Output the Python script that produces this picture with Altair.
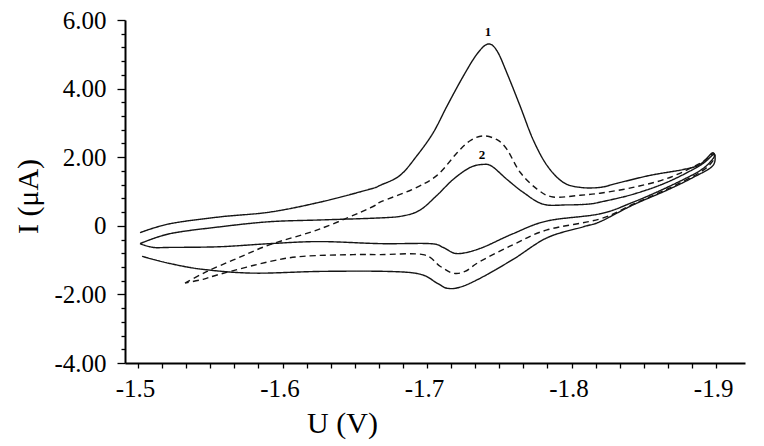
import altair as alt
import pandas as pd

# Curve 1 (solid, large peak) : forward scan then return scan
c1_u = [-1.5014, -1.5221, -1.5567, -1.5913, -1.6260, -1.6606, -1.6675, -1.6813, -1.6931, -1.7042,
        -1.7138, -1.7249, -1.7346, -1.7422, -1.7484, -1.7554, -1.7644, -1.7734, -1.7830, -1.7941,
        -1.8059, -1.8197, -1.8315, -1.8543, -1.8772, -1.8889, -1.8979,
        -1.8979, -1.8841, -1.8661, -1.8426, -1.8197, -1.8080, -1.7830, -1.7595, -1.7367, -1.7228,
        -1.7138, -1.7069, -1.6952, -1.6723, -1.6260, -1.5796, -1.5450, -1.5221, -1.5028]
c1_i = [-0.20, 0.06, 0.26, 0.40, 0.69, 1.07, 1.18, 1.47, 2.05, 2.71,
        3.49, 4.35, 5.01, 5.30, 5.10, 4.44, 3.49, 2.51, 1.76, 1.27,
        1.12, 1.12, 1.24, 1.47, 1.64, 1.79, 2.13,
        1.76, 1.41, 1.04, 0.61, 0.12, -0.03, -0.35, -0.98, -1.53, -1.79,
        -1.82, -1.67, -1.41, -1.33, -1.33, -1.38, -1.27, -1.10, -0.89]

# Curve 2 (solid, small peak)
c2_u = [-1.5014, -1.5221, -1.5567, -1.5913, -1.6260, -1.6675, -1.6834, -1.6952, -1.7069, -1.7180,
        -1.7298, -1.7388, -1.7450, -1.7554, -1.7664, -1.7803, -1.7969, -1.8107, -1.8197, -1.8426,
        -1.8661, -1.8889, -1.8979,
        -1.8979, -1.8889, -1.8661, -1.8426, -1.8197, -1.7830, -1.7595, -1.7367, -1.7208, -1.7111,
        -1.7021, -1.6675, -1.6260, -1.5913, -1.5567, -1.5221, -1.5104, -1.5014]
c2_i = [-0.52, -0.23, -0.03, 0.12, 0.17, 0.23, 0.29, 0.46, 0.89, 1.35,
        1.70, 1.79, 1.73, 1.35, 0.98, 0.63, 0.61, 0.63, 0.69, 0.92,
        1.27, 1.76, 2.07,
        1.96, 1.61, 1.12, 0.69, 0.35, 0.14, -0.23, -0.66, -0.81, -0.63,
        -0.52, -0.52, -0.46, -0.52, -0.61, -0.63, -0.63, -0.52]

# Dashed curve (intermediate peak)
c3_u = [-1.5325, -1.5478, -1.5685, -1.5913, -1.6260, -1.6606, -1.6675, -1.6903, -1.7069, -1.7208,
        -1.7298, -1.7388, -1.7484, -1.7554, -1.7644, -1.7761, -1.7872, -1.8059, -1.8197, -1.8426,
        -1.8661, -1.8889, -1.8979,
        -1.8979, -1.8889, -1.8661, -1.8426, -1.8197, -1.7830, -1.7595, -1.7367, -1.7263, -1.7180,
        -1.7090, -1.6972, -1.6675, -1.6488, -1.6142, -1.5913, -1.5567, -1.5450, -1.5325]
c3_i = [-1.67, -1.33, -0.95, -0.55, -0.09, 0.52, 0.69, 1.07, 1.47, 2.13,
        2.48, 2.62, 2.51, 2.22, 1.56, 1.07, 0.84, 0.89, 0.95, 1.12,
        1.38, 1.82, 2.10,
        1.90, 1.56, 1.07, 0.63, 0.20, -0.12, -0.55, -1.04, -1.33, -1.38,
        -1.18, -0.84, -0.84, -0.84, -0.89, -1.04, -1.41, -1.56, -1.67]

# Peak labels
lab_text = ["1", "2"]
lab_u = [-1.7422, -1.7381]
lab_i = [5.65, 2.07]

# Axis ticks
x_ticks = [round(-1.5 - k / 60.0, 5) for k in range(25)]
y_ticks = [round(-4 + 0.4 * k, 2) for k in range(26)]

rows = []
for name, us, vs in [("1", c1_u, c1_i), ("2", c2_u, c2_i), ("3", c3_u, c3_i)]:
    for k, (u, v) in enumerate(zip(us, vs)):
        rows.append({"series": name, "order": k, "U": u, "I": v})
df = pd.DataFrame(rows)
lab_df = pd.DataFrame({"t": lab_text, "U": lab_u, "I": lab_i})

FONT = "Liberation Serif"
xscale = alt.Scale(domain=[-1.92, -1.491], reverse=True, nice=False, zero=False)
yscale = alt.Scale(domain=[-4, 6], nice=False, zero=False)

y_major = "abs(datum.value/2 - round(datum.value/2)) < 0.01"
x_major = "abs(datum.value*10 - round(datum.value*10)) < 0.001"
nb = "\u00a0"

x_axis = alt.Axis(
    values=x_ticks,
    labelExpr=f"{x_major} ? '-' + format(abs(datum.value), '.1f') : ''",
    tickSize=5, tickWidth=1.3, tickColor="black",
    domainWidth=2, domainColor="black",
    labelFont=FONT, labelColor="black",
    labelFontSize={"condition": {"test": x_major, "value": 25}, "value": 0},
    labelBaseline="alphabetic", labelPadding=28, labelOffset=-3,
    labelOverlap=False, labelFlush=False,
    title="U (V)", titleFont=FONT, titleFontSize=30, titleFontWeight="normal",
    titleColor="black", titleX=217, titleY=69, titleAlign="center",
    titleBaseline="alphabetic", grid=False,
)
y_axis = alt.Axis(
    values=y_ticks,
    labelExpr=f"{y_major} ? (datum.value == 0 ? '0{nb*5}' : (datum.value < 0 ? '-' : '') + format(abs(datum.value), '.2f')) : ''",
    tickSize={"condition": {"test": y_major, "value": 8}, "value": 4},
    tickWidth=1.3, tickColor="black",
    domainWidth=2, domainColor="black",
    labelFont=FONT, labelColor="black",
    labelFontSize={"condition": {"test": y_major, "value": 25}, "value": 0},
    labelPadding=11, labelOverlap=False, labelFlush=False,
    title="I (\u03bcA)", titleFont=FONT, titleFontSize=30, titleFontWeight="normal",
    titleColor="black", titleAngle=-90, titleX=-88, titleY=176,
    titleAlign="center", titleBaseline="alphabetic", grid=False,
)

lines = alt.Chart(df).mark_line(color="#151515", strokeWidth=1.4, interpolate="cardinal").encode(
    x=alt.X("U:Q", scale=xscale, axis=x_axis),
    y=alt.Y("I:Q", scale=yscale, axis=y_axis),
    detail="series:N",
    order="order:Q",
    strokeDash=alt.StrokeDash(
        "series:N",
        scale=alt.Scale(domain=["1", "2", "3"], range=[[1, 0], [1, 0], [6, 4]]),
        legend=None,
    ),
)

labels = alt.Chart(lab_df).mark_text(font=FONT, fontSize=13, fontWeight="bold", color="black",
                                      baseline="middle", align="center").encode(
    x=alt.X("U:Q", scale=xscale, axis=x_axis),
    y=alt.Y("I:Q", scale=yscale, axis=y_axis),
    text="t:N",
)

chart = alt.layer(lines, labels).properties(
    width=620, height=343,
    autosize=alt.AutoSizeParams(type="none"),
    padding={"left": 117, "top": 12, "right": 10, "bottom": 80},
    background="white",
).configure_view(stroke="transparent")

chart.save("out.html", embed_options={"renderer": "svg", "actions": False})
